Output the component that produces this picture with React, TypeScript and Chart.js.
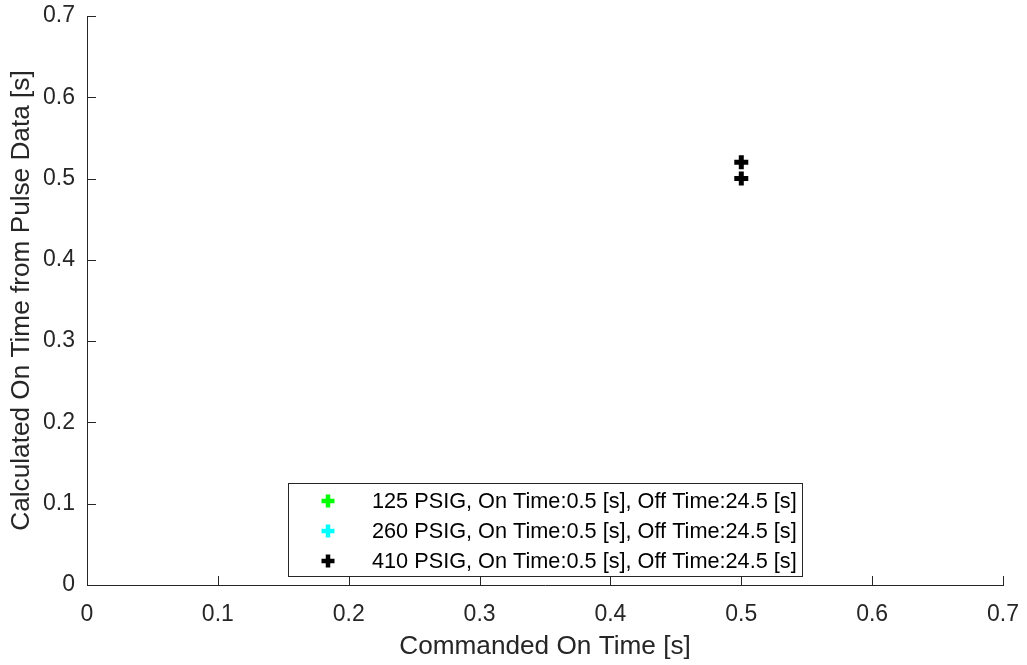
import React, { useEffect, useRef } from "react";
import { Chart, registerables } from "chart.js";

Chart.register(...registerables);

const seriesLabels = [
  "125 PSIG, On Time:0.5 [s], Off Time:24.5 [s]",
  "260 PSIG, On Time:0.5 [s], Off Time:24.5 [s]",
  "410 PSIG, On Time:0.5 [s], Off Time:24.5 [s]",
];
const seriesColors = ["#00ff00", "#00ffff", "#000000"];
const commandedOn125 = [0.5];
const calculatedOn125 = [0.5];
const commandedOn260 = [0.5];
const calculatedOn260 = [0.52];
const commandedOn410 = [0.5, 0.5];
const calculatedOn410 = [0.52, 0.5];
const tickValues = [0, 0.1, 0.2, 0.3, 0.4, 0.5, 0.6, 0.7];
const xTitle = "Commanded On Time [s]";
const yTitle = "Calculated On Time from Pulse Data [s]";

const FONT = "'Liberation Sans', Arial, Helvetica, sans-serif";
const AXIS = "#262626";

const toPoints = (xs: number[], ys: number[]) => xs.map((x, i) => ({ x, y: ys[i] }));

const insideTicks = {
  id: "insideTicks",
  beforeDatasetsDraw(chart: any) {
    const { ctx, chartArea, scales } = chart;
    const len = 9;
    ctx.save();
    ctx.strokeStyle = AXIS;
    ctx.lineWidth = 1;
    ctx.beginPath();
    tickValues.forEach((v) => {
      const px = Math.round(scales.x.getPixelForValue(v)) + 0.5;
      ctx.moveTo(px, chartArea.bottom);
      ctx.lineTo(px, chartArea.bottom - len);
      const py = Math.round(scales.y.getPixelForValue(v)) + 0.5;
      ctx.moveTo(chartArea.left, py);
      ctx.lineTo(chartArea.left + len, py);
    });
    ctx.stroke();
    ctx.restore();
  },
};

const boxLegend = {
  id: "boxLegend",
  afterDatasetsDraw(chart: any) {
    const { ctx } = chart;
    const left = 288.5, top = 483.5, w = 514, h = 93;
    ctx.save();
    ctx.fillStyle = "#ffffff";
    ctx.fillRect(left, top, w, h);
    ctx.strokeStyle = "#262626";
    ctx.lineWidth = 1;
    ctx.strokeRect(left, top, w, h);
    ctx.font = `21.7px ${FONT}`;
    ctx.textBaseline = "middle";
    ctx.textAlign = "left";
    chart.data.datasets.forEach((ds: any, i: number) => {
      const cy = 501 + i * 30;
      const cx = 328;
      ctx.strokeStyle = ds.borderColor;
      ctx.lineWidth = 4.5;
      ctx.beginPath();
      ctx.moveTo(cx - 6.5, cy);
      ctx.lineTo(cx + 6.5, cy);
      ctx.moveTo(cx, cy - 6.5);
      ctx.lineTo(cx, cy + 6.5);
      ctx.stroke();
      ctx.fillStyle = "#000000";
      ctx.fillText(ds.label, 372, cy + 1);
    });
    ctx.restore();
  },
};

export default function App() {
  const ref = useRef<HTMLCanvasElement>(null);
  useEffect(() => {
    if (!ref.current) return;
    const mk = (i: number, xs: number[], ys: number[]) => ({
      label: seriesLabels[i],
      data: toPoints(xs, ys),
      borderColor: seriesColors[i],
      backgroundColor: seriesColors[i],
      pointStyle: "cross",
      pointRadius: i === 2 ? 7 : 6,
      pointBorderWidth: i === 2 ? 5 : 3.5,
      showLine: false,
      order: 2 - i,
    });
    const chart = new Chart(ref.current, {
      type: "scatter",
      data: {
        datasets: [
          mk(0, commandedOn125, calculatedOn125),
          mk(1, commandedOn260, calculatedOn260),
          mk(2, commandedOn410, calculatedOn410),
        ] as any,
      },
      options: {
        animation: false,
        responsive: false,
        devicePixelRatio: 1,
        layout: { padding: { left: 0, top: 16, right: 24, bottom: 0 } },
        plugins: { legend: { display: false }, tooltip: { enabled: false } },
        scales: {
          x: {
            type: "linear",
            min: 0,
            max: 0.7,
            afterBuildTicks: (s: any) => { s.ticks = tickValues.map((v) => ({ value: v })); },
            afterFit: (s: any) => {
              s.height = 80;
              s.paddingLeft = 0;
              s.paddingRight = 0;
              s.paddingTop = 0;
              s.paddingBottom = 0;
            },
            grid: { display: false, drawTicks: false },
            border: { display: true, color: AXIS, width: 1 },
            ticks: {
              color: AXIS,
              font: { family: FONT, size: 23 },
              padding: 16,
              maxRotation: 0,
              callback: (v: any) => (v === 0 ? "0" : Number(v).toFixed(1)),
            },
            title: {
              display: true,
              text: xTitle,
              color: AXIS,
              font: { family: FONT, size: 26.2, lineHeight: 1 },
              padding: { top: 0, bottom: 5 },
            },
          },
          y: {
            type: "linear",
            min: 0,
            max: 0.7,
            afterBuildTicks: (s: any) => { s.ticks = tickValues.map((v) => ({ value: v })); },
            afterFit: (s: any) => {
              s.width = 87;
              s.paddingLeft = 0;
              s.paddingRight = 0;
              s.paddingTop = 0;
              s.paddingBottom = 0;
            },
            grid: { display: false, drawTicks: false },
            border: { display: true, color: AXIS, width: 1 },
            ticks: {
              color: AXIS,
              font: { family: FONT, size: 23 },
              padding: 12,
              callback: (v: any) => (v === 0 ? "0" : Number(v).toFixed(1)),
            },
            title: {
              display: true,
              text: yTitle,
              color: AXIS,
              font: { family: FONT, size: 26.2, lineHeight: 1 },
              padding: { top: 9, bottom: 0 },
            },
          },
        },
      },
      plugins: [insideTicks, boxLegend],
    } as any);
    return () => chart.destroy();
  }, []);
  return (
    <div style={{ position: "absolute", left: 0, top: 0, width: 1027, height: 665, background: "#ffffff" }}>
      <canvas ref={ref} width={1027} height={665} style={{ width: 1027, height: 665, display: "block" }} />
    </div>
  );
}
